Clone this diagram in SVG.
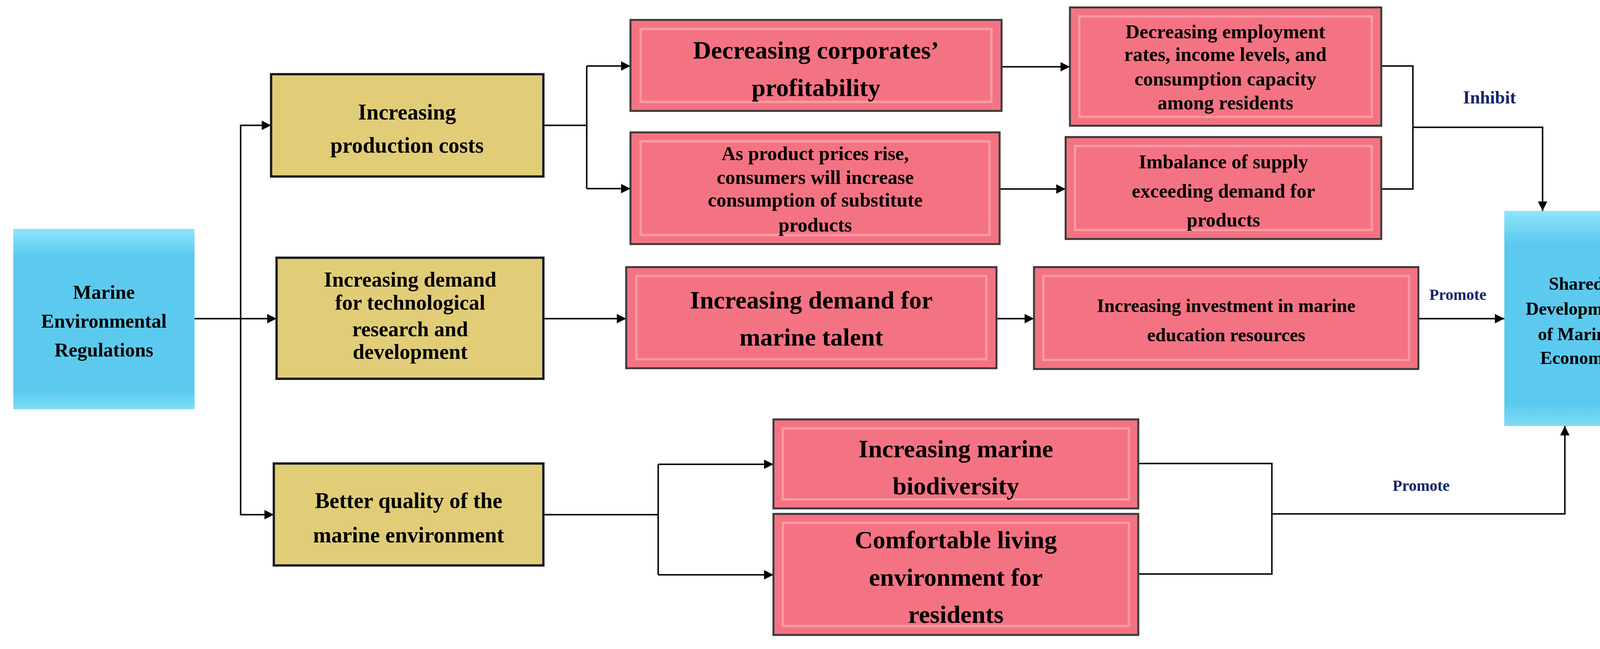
<svg xmlns="http://www.w3.org/2000/svg" width="4244" height="1662" viewBox="0 0 4244 1662">
<defs>
<linearGradient id="gb" x1="0" y1="0" x2="0" y2="1"><stop offset="0" stop-color="#8fe4fb"/><stop offset="0.15" stop-color="#5ccaee"/><stop offset="0.9" stop-color="#5ccaee"/><stop offset="1" stop-color="#7fdcf8"/></linearGradient>
<marker id="ah" viewBox="0 0 10 10" refX="10" refY="5" markerWidth="6" markerHeight="6" orient="auto" markerUnits="strokeWidth"><path d="M0,0 L10,5 L0,10 z" fill="#000"/></marker>
</defs>
<style>
text{font-family:"Liberation Serif","Times New Roman",serif;font-weight:bold;text-anchor:middle;fill:#000}
.pk{fill:#f47383;stroke:#3a3a3a;stroke-width:5}
.pki{fill:none;stroke:#fca2ac;stroke-width:6;stroke-opacity:0.8}
.pkd{fill:none;stroke:#c85866;stroke-width:3}
.yl{fill:#e1cd78;stroke:#1e1e1e;stroke-width:6}
.bl{fill:url(#gb)}
.ln{fill:none;stroke:#111;stroke-width:4}
.lab{fill:#14246a}
</style>
<g id="connectors">
<path class="ln" d="M498,816 H708" marker-end="url(#ah)"/>
<path class="ln" d="M694,321 H616 V1318 H701" marker-end="url(#ah)"/>
<path class="ln" d="M616,321 H694" marker-end="url(#ah)"/>
<path class="ln" d="M1391,321 H1502"/>
<path class="ln" d="M1502,169 V483"/>
<path class="ln" d="M1502,169 H1614" marker-end="url(#ah)"/>
<path class="ln" d="M1502,483 H1614" marker-end="url(#ah)"/>
<path class="ln" d="M2564,171 H2739" marker-end="url(#ah)"/>
<path class="ln" d="M2559,484 H2728" marker-end="url(#ah)"/>
<path class="ln" d="M3536,169 H3617 V484 H3536"/>
<path class="ln" d="M3617,326 H3949 V540" marker-end="url(#ah)"/>
<path class="ln" d="M1391,816 H1603" marker-end="url(#ah)"/>
<path class="ln" d="M2551,816 H2647" marker-end="url(#ah)"/>
<path class="ln" d="M3631,816 H3851" marker-end="url(#ah)"/>
<path class="ln" d="M1391,1318 H1685"/>
<path class="ln" d="M1685,1189 V1472"/>
<path class="ln" d="M1685,1189 H1980" marker-end="url(#ah)"/>
<path class="ln" d="M1685,1472 H1980" marker-end="url(#ah)"/>
<path class="ln" d="M2914,1187 H3256 V1470 H2914"/>
<path class="ln" d="M3256,1316 H4006 V1091" marker-end="url(#ah)"/>
<text class="lab" x="3813" y="265" font-size="46">Inhibit</text>
<text class="lab" x="3732" y="768" font-size="40">Promote</text>
<text class="lab" x="3638" y="1257" font-size="40">Promote</text>
</g>
<g id="n-marine">
<rect class="bl" x="34" y="586" width="464" height="462"/>
<text font-size="50"><tspan x="266" y="765">Marine</tspan><tspan x="266" y="839">Environmental</tspan><tspan x="266" y="913">Regulations</tspan></text>
</g>
<g id="n-cost">
<rect class="yl" x="694" y="190" width="697" height="262"/>
<text font-size="56"><tspan x="1042" y="306">Increasing</tspan><tspan x="1042" y="391">production costs</tspan></text>
</g>
<g id="n-tech">
<rect class="yl" x="708" y="660" width="683" height="310"/>
<text font-size="54"><tspan x="1050" y="734">Increasing demand</tspan><tspan x="1050" y="793">for technological</tspan><tspan x="1050" y="861">research and</tspan><tspan x="1050" y="919">development</tspan></text>
</g>
<g id="n-quality">
<rect class="yl" x="701" y="1187" width="690" height="261"/>
<text font-size="56"><tspan x="1046" y="1301">Better quality of the</tspan><tspan x="1046" y="1389">marine environment</tspan></text>
</g>
<g id="n-profit">
<rect class="pk" x="1614" y="51" width="950" height="233"/>
<rect class="pki" x="1640" y="74" width="898" height="187"/>
<text font-size="64"><tspan x="2089" y="150">Decreasing corporates’</tspan><tspan x="2089" y="246">profitability</tspan></text>
</g>
<g id="n-subst">
<rect class="pk" x="1614" y="339" width="945" height="286"/>
<rect class="pki" x="1640" y="362" width="893" height="240"/>
<text font-size="50"><tspan x="2087" y="410">As product prices rise,</tspan><tspan x="2087" y="471">consumers will increase</tspan><tspan x="2087" y="529">consumption of substitute</tspan><tspan x="2087" y="593">products</tspan></text>
</g>
<g id="n-talent">
<rect class="pk" x="1603" y="684" width="948" height="259"/>
<rect class="pki" x="1629" y="707" width="896" height="213"/>
<text font-size="64"><tspan x="2077" y="790">Increasing demand for</tspan><tspan x="2077" y="885">marine talent</tspan></text>
</g>
<g id="n-employ">
<rect class="pk" x="2739" y="19" width="797" height="303"/>
<rect class="pki" x="2763" y="42" width="749" height="257"/>
<text font-size="50"><tspan x="3137" y="98">Decreasing employment</tspan><tspan x="3137" y="156">rates, income levels, and</tspan><tspan x="3137" y="219">consumption capacity</tspan><tspan x="3137" y="280">among residents</tspan></text>
</g>
<g id="n-imbalance">
<rect class="pk" x="2728" y="351" width="808" height="261"/>
<rect class="pki" x="2752" y="374" width="760" height="215"/>
<text font-size="50"><tspan x="3132" y="431">Imbalance of supply</tspan><tspan x="3132" y="506">exceeding demand for</tspan><tspan x="3132" y="580">products</tspan></text>
</g>
<g id="n-invest">
<rect class="pk" x="2647" y="684" width="984" height="261"/>
<rect class="pki" x="2671" y="707" width="936" height="215"/>
<text font-size="48"><tspan x="3139" y="799">Increasing investment in marine</tspan><tspan x="3139" y="874">education resources</tspan></text>
</g>
<g id="n-biodiv">
<rect class="pk" x="1980" y="1074" width="934" height="228"/>
<rect class="pki" x="2004" y="1097" width="886" height="182"/>
<text font-size="64"><tspan x="2447" y="1171">Increasing marine</tspan><tspan x="2447" y="1266">biodiversity</tspan></text>
</g>
<g id="n-living">
<rect class="pk" x="1980" y="1316" width="934" height="310"/>
<rect class="pki" x="2004" y="1339" width="886" height="264"/>
<text font-size="64"><tspan x="2447" y="1404">Comfortable living</tspan><tspan x="2447" y="1500">environment for</tspan><tspan x="2447" y="1595">residents</tspan></text>
</g>
<g id="n-shared">
<rect class="bl" x="3851" y="540" width="368" height="551"/>
<text font-size="46"><tspan x="4035" y="742">Shared</tspan><tspan x="4035" y="806">Development</tspan><tspan x="4035" y="871">of Marine</tspan><tspan x="4035" y="932">Economy</tspan></text>
</g>
</svg>
